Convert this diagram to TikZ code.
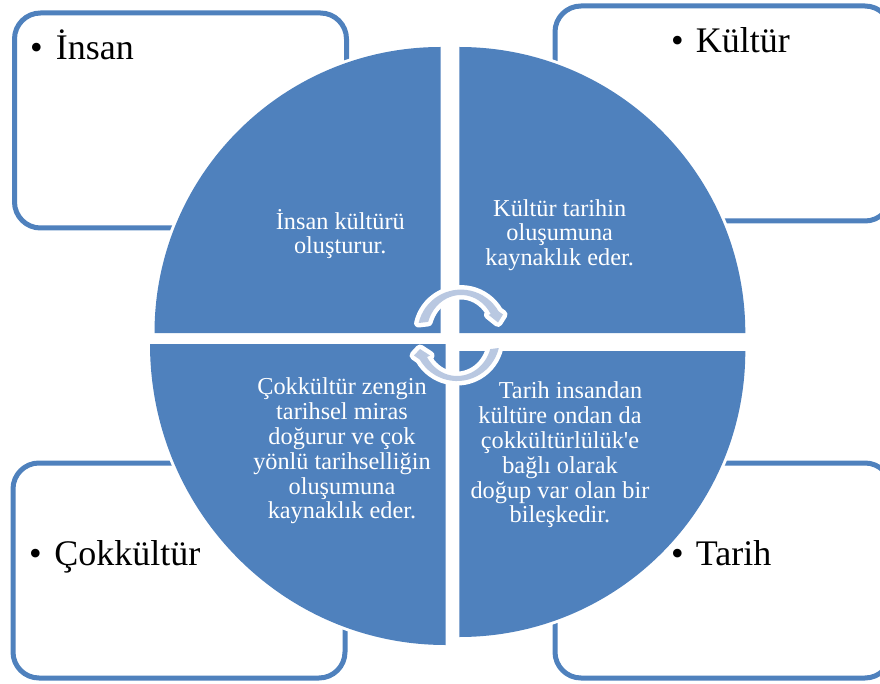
\documentclass[tikz,border=0pt]{standalone}
\usepackage{fontspec}
\setmainfont{Liberation Serif}
\newfontfamily\plainserif{Liberation Serif}
\definecolor{blu}{RGB}{79,129,189}
\definecolor{lite}{RGB}{185,200,225}
\tikzset{
  x=1pt,y=-1pt,
  framebox/.style={draw=blu,line width=5pt,fill=white,rounded corners=26pt},
  sector/.style={fill=blu,draw=none,preaction={draw=white,line width=6pt}},
  big/.style={font=\fontsize{36}{42}\selectfont,anchor=base west,inner sep=0pt,text=black},
  small/.style={font=\fontsize{24.3}{24.8}\selectfont,align=center,text=white,inner sep=0pt},
  turn/.style={fill=lite,draw=none,preaction={draw=white,line width=9pt,line join=round}}
}
\begin{document}
\begin{tikzpicture}
\useasboundingbox (0,0) rectangle (880,684);
\clip (0,0) rectangle (880,684);
\draw[framebox] (14.5,13) rectangle (346.5,228);
\draw[framebox] (555,6) rectangle (891,221);
\draw[framebox] (13,463) rectangle (345,678);
\draw[framebox] (555,463) rectangle (891,678);
\node[big] (a) at (30,60) {•\hspace{13pt}İnsan};
\node[big] (b) at (671,53) {•\hspace{12pt}Kültür};
\node[big] (c) at (29,565) {•\hspace{12.5pt}Çokkültür};
\node[big] (d) at (671,565) {•\hspace{12pt}Tarih};
\fill[sector] (440.5,333) -- (154.5,333) arc[start angle=180,end angle=90,radius=286,y radius=-286] -- cycle;
\fill[sector] (459.3,333) -- (459.3,47) arc[start angle=90,end angle=0,radius=286,y radius=-286] -- cycle;
\fill[sector] (459.3,351) -- (745.3,351) arc[start angle=0,end angle=-90,radius=286,y radius=-286] -- cycle;
\fill[sector] (445.5,344) -- (445.5,645) arc[start angle=-90,end angle=-180,x radius=295.5,y radius=-301] -- cycle;
\node[small] (n1) at (340.3,234) {İnsan kültürü\\oluşturur.};
\node[small] (n2) at (559.7,235) {Kültür tarihin\\oluşumuna\\kaynaklık eder.};
\node[small] (n3) at (342,451) {Çokkültür zengin\\tarihsel miras\\doğurur ve çok\\yönlü tarihselliğin\\oluşumuna\\kaynaklık eder.};
\node[small] (n4) at (560,455) {\hspace*{21pt}Tarih insandan\\kültüre ondan da\\çokkültürlülük{\plainserif 'e}\\bağlı olarak\\doğup var olan bir\\bileşkedir.};
\path[turn] (418.6,323) arc[start angle=166.6,end angle=30,radius=43.5,y radius=-43.5]
  -- (503,314.5) -- (498,322.5) -- (488.5,314.8) -- (490.7,314)
  arc[start angle=30,end angle=163,x radius=34.3,y radius=-38] -- cycle;
\path[turn] (498.8,348) arc[start angle=-13.4,end angle=-150,radius=43,y radius=-43]
  -- (414,355.5) -- (420,349) -- (430,355.5) -- (427,357)
  arc[start angle=-150,end angle=-17,x radius=34.7,y radius=-38] -- cycle;
\end{tikzpicture}
\end{document}
